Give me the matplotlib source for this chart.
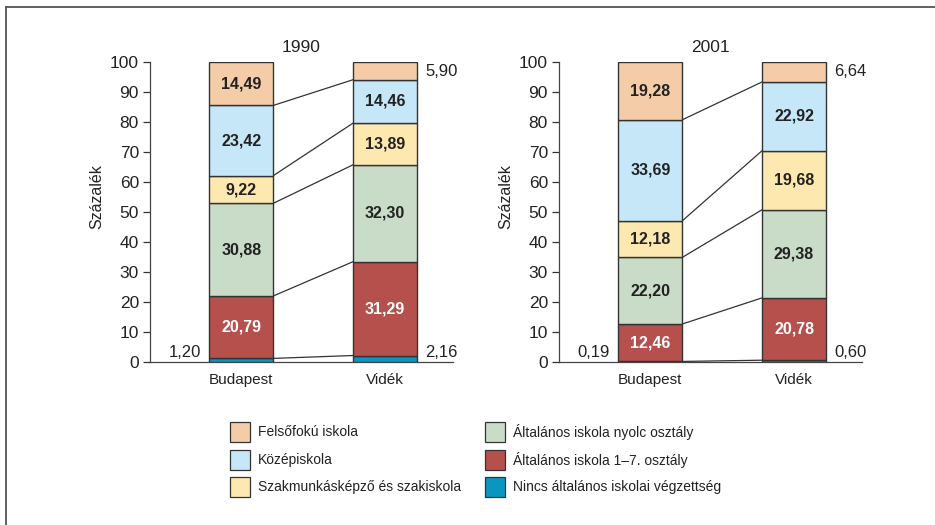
import matplotlib
matplotlib.use("Agg")
import matplotlib.pyplot as plt
from matplotlib.patches import Rectangle
from matplotlib.lines import Line2D
import numpy as np

plt.rcParams['font.family'] = ['Liberation Sans', 'DejaVu Sans']

regions = ["Budapest", "Vidék"]
years = ["1990", "2001"]
categories = ["Nincs általános iskolai végzettség",
              "Általános iskola 1\u20137. osztály",
              "Általános iskola nyolc osztály",
              "Szakmunkásképző és szakiskola",
              "Középiskola",
              "Felsőfokú iskola"]
colors = ["#0A96C0", "#B5504C", "#C9DCC7", "#FDE8B0", "#C6E7F8", "#F5CCA8"]

# values bottom -> top, per region
values_1990 = {"Budapest": [1.20, 20.79, 30.88, 9.22, 23.42, 14.49],
               "Vidék":    [2.16, 31.29, 32.30, 13.89, 14.46, 5.90]}
values_2001 = {"Budapest": [0.19, 12.46, 22.20, 12.18, 33.69, 19.28],
               "Vidék":    [0.60, 20.78, 29.38, 19.68, 22.92, 6.64]}
yticks = [0, 10, 20, 30, 40, 50, 60, 70, 80, 90, 100]

fig = plt.figure(figsize=(9.35, 5.25), dpi=100)
W, H = 935, 525

def fmt(v):
    return f"{v:.2f}".replace(".", ",")

bar_w = 0.444
def draw(ax, data, title):
    for i, reg in enumerate(regions):
        vals = data[reg]
        bottoms = np.concatenate([[0], np.cumsum(vals)[:-1]])
        ax.bar(i, vals, bottom=bottoms, width=bar_w, color=colors,
               edgecolor="#333333", linewidth=1.0, zorder=3)
        for k, (v, b) in enumerate(zip(vals, bottoms)):
            if k == 0:
                if i == 0:
                    ax.text(i - bar_w / 2 - 0.06, b + 3.2, fmt(v), ha="right", va="center",
                            fontsize=12, color="#222222")
                else:
                    ax.text(i + bar_w / 2 + 0.06, b + 3.2, fmt(v), ha="left", va="center",
                            fontsize=12, color="#222222")
            elif k == len(vals) - 1 and i == 1:
                ax.text(i + bar_w / 2 + 0.06, 97, fmt(v), ha="left", va="center",
                        fontsize=12, color="#222222")
            else:
                c = "white" if k == 1 else "#222222"
                ax.text(i, b + v / 2, fmt(v), ha="center", va="center",
                        fontsize=11.5, fontweight="bold", color=c, zorder=4)
    # connecting lines
    cb = np.cumsum(data["Budapest"])[:-1]
    cv = np.cumsum(data["Vidék"])[:-1]
    for a, b in zip(cb, cv):
        ax.plot([0 + bar_w / 2, 1 - bar_w / 2], [a, b], color="#333333", lw=0.9, zorder=2)
    ax.set_xlim(-0.635, 1.473)
    ax.set_ylim(0, 100)
    ax.set_yticks(yticks)
    ax.set_xticks([0, 1])
    ax.set_xticklabels(regions)
    ax.tick_params(axis="x", length=0, pad=8, labelsize=11, colors="#222222")
    ax.tick_params(axis="y", length=5, width=0.9, direction="out", pad=3,
                   labelsize=12.5, colors="#333333", labelcolor="#222222")
    for s in ["top", "right"]:
        ax.spines[s].set_visible(False)
    for s in ["left", "bottom"]:
        ax.spines[s].set_color("#444444")
        ax.spines[s].set_linewidth(0.9)
    ax.set_ylabel("Százalék", fontsize=11.5, color="#222222")
    ax.yaxis.set_label_coords(-0.152, 0.55)
    ax.set_title(title, fontsize=12.5, color="#222222", pad=7)

ax1 = fig.add_axes([150 / W, (H - 362) / H, 303 / W, 300 / H])
ax2 = fig.add_axes([559 / W, (H - 362) / H, 303 / W, 300 / H])
draw(ax1, values_1990, years[0])
draw(ax2, values_2001, years[1])

# legend (manual)
left_cats = [5, 4, 3]
right_cats = [2, 1, 0]
row_y = [432, 460, 487]
for col_x, cats in [(230, left_cats), (485, right_cats)]:
    for r, k in enumerate(cats):
        y = row_y[r]
        fig.add_artist(Rectangle(((col_x) / W, (H - y - 10) / H), 20 / W, 20 / H,
                                 transform=fig.transFigure, facecolor=colors[k],
                                 edgecolor="#333333", linewidth=0.9))
        fig.text((col_x + 28) / W, (H - y) / H, categories[k], ha="left", va="center",
                 fontsize=10, color="#222222")

# frame lines
fig.add_artist(Line2D([6 / W, 6 / W], [0, (H - 7) / H], transform=fig.transFigure,
                      color="#555555", lw=1.3))
fig.add_artist(Line2D([6 / W, 1], [(H - 7) / H, (H - 7) / H], transform=fig.transFigure,
                      color="#555555", lw=1.3))

fig.savefig("out.png", dpi=100)
